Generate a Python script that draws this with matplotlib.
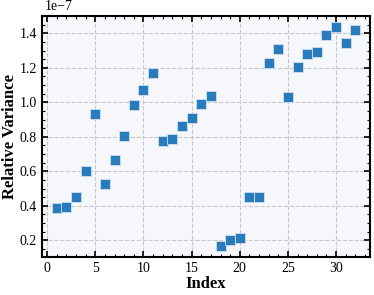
import matplotlib
matplotlib.use("Agg")
import matplotlib.pyplot as plt
from matplotlib.ticker import AutoMinorLocator

# Index of each sample
index = list(range(1, 33))

# Relative variance values (scaled by 1e-7)
rel_var = [0.386, 0.395, 0.453, 0.600, 0.934, 0.525, 0.666, 0.807,
           0.983, 1.074, 1.169, 0.776, 0.788, 0.865, 0.911, 0.992,
           1.035, 0.165, 0.200, 0.212, 0.453, 0.453, 1.228, 1.308,
           1.029, 1.203, 1.279, 1.294, 1.389, 1.439, 1.343, 1.421]
rel_var = [v * 1e-7 for v in rel_var]

plt.rcParams['font.family'] = 'serif'
plt.rcParams['font.serif'] = ['Liberation Serif', 'DejaVu Serif']
plt.rcParams['mathtext.fontset'] = 'stix'

fig, ax = plt.subplots(figsize=(3.74, 2.95), dpi=100)
ax.set_facecolor('#f6f7fa')

ax.scatter(index, rel_var, marker='s', s=42, color='#2a7bbb',
           edgecolors='#cfe0ef', linewidths=0.6, zorder=3)

ax.set_xlabel("Index", fontsize=12, fontweight='bold', labelpad=1)
ax.set_ylabel("Relative Variance", fontsize=12, fontweight='bold', labelpad=1)

# Ticks pointing inward on all sides, like a science style
ax.tick_params(which='both', direction='in', top=True, right=True, labelsize=10)
ax.tick_params(which='major', length=4, width=1.2)
ax.tick_params(which='minor', length=2, width=0.8)
ax.xaxis.set_minor_locator(AutoMinorLocator(5))
ax.yaxis.set_minor_locator(AutoMinorLocator(4))

# Show the 1e-7 scale text starting at the left edge of the axes
ax.yaxis.get_offset_text().set_visible(False)
ax.text(0.01, 1.012, "1e\u22127", transform=ax.transAxes, fontsize=10,
        ha='left', va='bottom')

for spine in ax.spines.values():
    spine.set_linewidth(1.5)

ax.grid(True, linestyle='--', color='#c8c8c8', linewidth=0.8, zorder=0)
ax.set_axisbelow(True)

plt.subplots_adjust(left=0.112, right=0.99, top=0.947, bottom=0.128)
plt.savefig("out.png", dpi=100)
plt.close()
